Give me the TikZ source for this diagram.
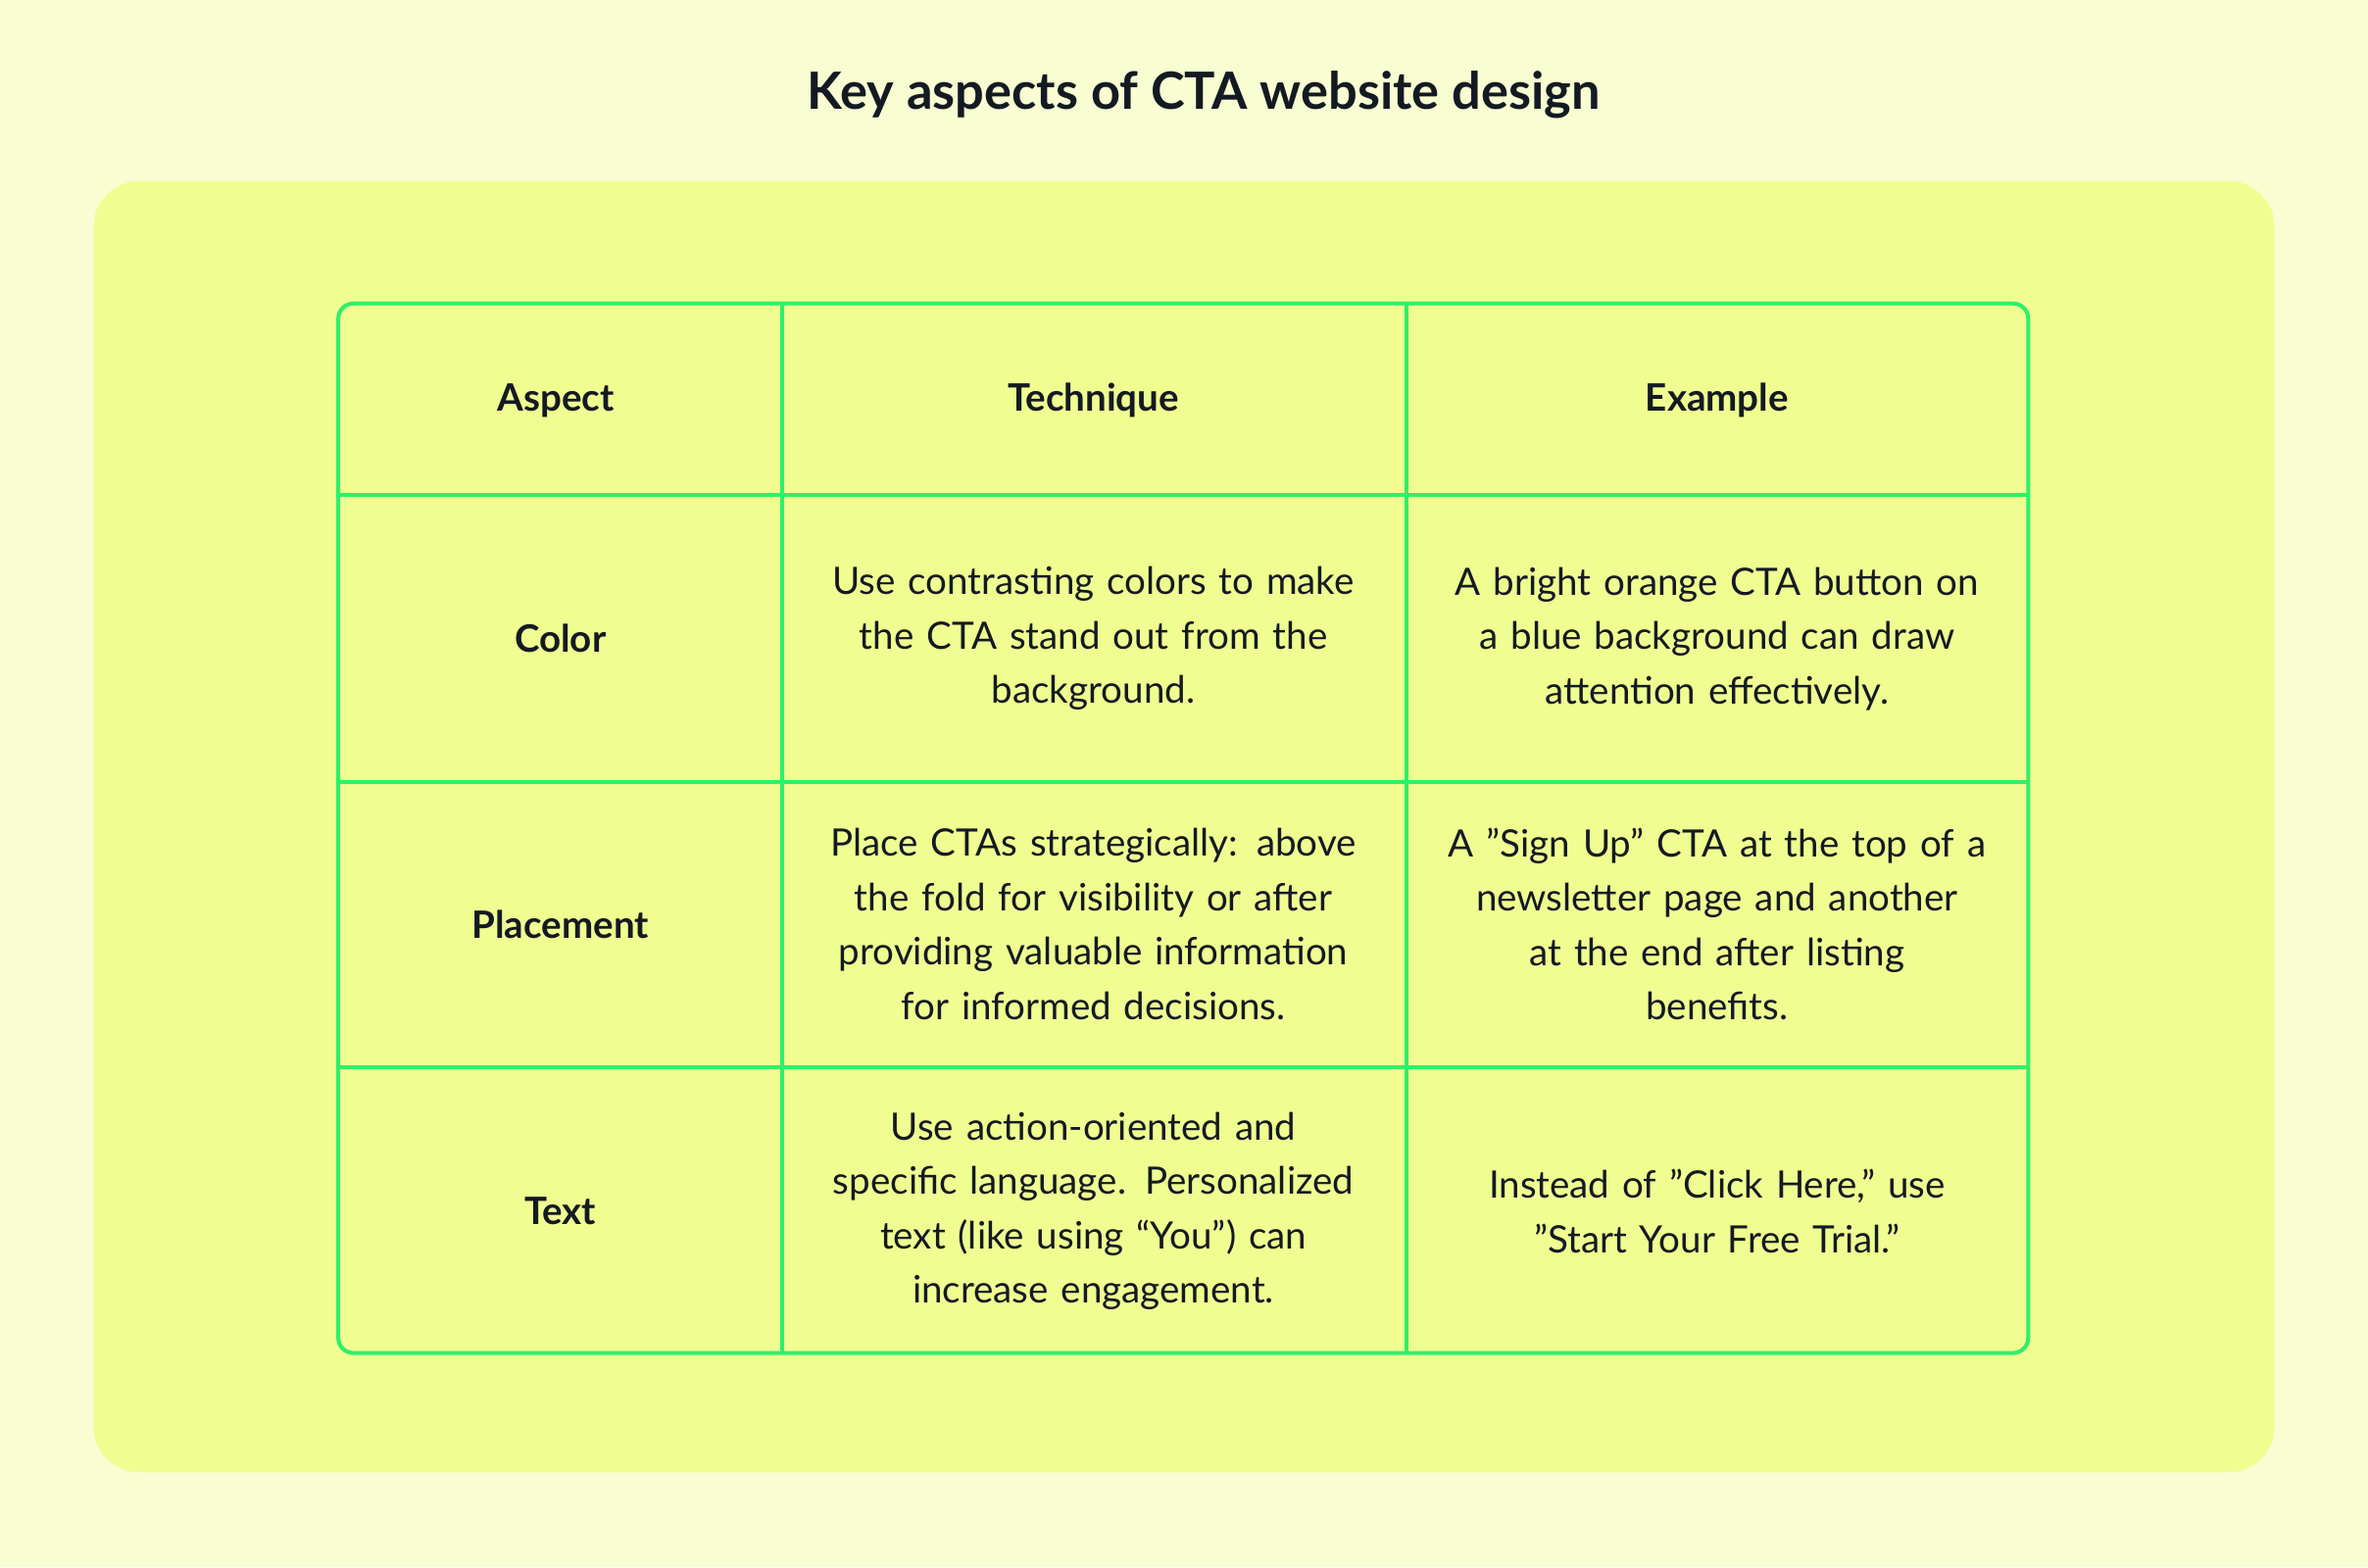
\documentclass[tikz,border=0pt]{standalone}
\usepackage{fontspec}
\setmainfont{Lato}
\definecolor{bg}{HTML}{F8FDD2}
\definecolor{panel}{HTML}{F0FD91}
\definecolor{grid}{HTML}{2EF06A}
\definecolor{ink}{HTML}{141A22}
\begin{document}
\begin{tikzpicture}[x=0.5pt,y=-0.5pt,
  cell/.style={align=center,text width=195pt,font=\fontsize{12.5}{18}\selectfont,text=ink},
  head/.style={font=\fontsize{12.5}{18}\selectfont\bfseries,text=ink}]
\fill[bg] (0,0) rectangle (1568,1038);
\useasboundingbox (0,0) rectangle (1568,1038);
\fill[panel,rounded corners=15pt] (62,120) rectangle (1506,975);
\node[font=\fontsize{17}{20}\selectfont\bfseries,text=ink] (title) at (797,63) {Key aspects of CTA website design};
\draw[grid,line width=1.3pt,rounded corners=5pt] (224,201) rectangle (1343,896);
\foreach \x in {518,931} \draw[grid,line width=1.3pt] (\x,201) -- (\x,896);
\foreach \y in {328,518,707} \draw[grid,line width=1.3pt] (224,\y) -- (1343,\y);
\node[head] (h1) at (368,265) {Aspect};
\node[head] (h2) at (724,265) {Technique};
\node[head] (h3) at (1137,265) {Example};
\node[head] (a1) at (371,423) {Color};
\node[head] (a2) at (371,612) {Placement};
\node[head] (a3) at (371,802) {Text};
\node[cell] (t1) at (724,423) {Use contrasting colors to make\\the CTA stand out from the\\background.};
\node[cell] (t2) at (724,612) {Place CTAs strategically: above\\the fold for visibility or after\\providing valuable information\\for informed decisions.};
\node[cell] (t3) at (724,802) {Use action-oriented and\\specific language. Personalized\\text (like using “You”) can\\increase engagement.};
\node[cell] (e1) at (1137,423) {A bright orange CTA button on\\a blue background can draw\\attention effectively.};
\node[cell] (e2) at (1137,612) {A "Sign Up" CTA at the top of a\\newsletter page and another\\at the end after listing\\benefits.};
\node[cell] (e3) at (1137,802) {Instead of "Click Here," use\\"Start Your Free Trial."};
\end{tikzpicture}
\end{document}
